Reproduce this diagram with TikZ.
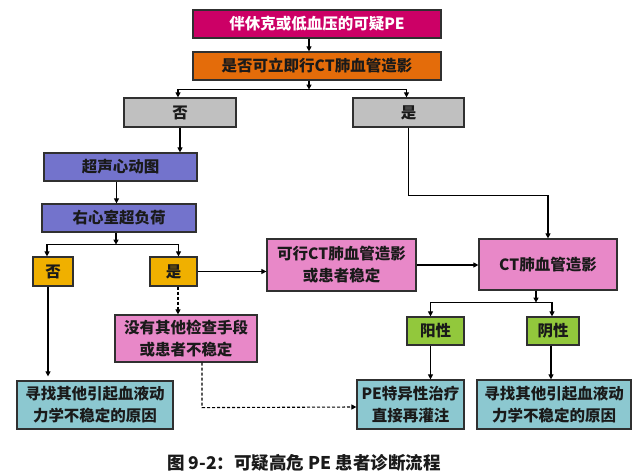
\documentclass[tikz,border=0pt]{standalone}
\usepackage{fontspec}
\newfontfamily\cjk{Noto Sans CJK SC}
\usetikzlibrary{arrows.meta,calc}
\definecolor{cmag}{HTML}{CC0066}
\definecolor{corg}{HTML}{E46C0A}
\definecolor{cgray}{HTML}{C0C0C0}
\definecolor{cpur}{HTML}{7373CC}
\definecolor{cyel}{HTML}{F0B000}
\definecolor{cpink}{HTML}{E888C8}
\definecolor{cgrn}{HTML}{92C83C}
\definecolor{cteal}{HTML}{8CC8D0}
\definecolor{ctext}{HTML}{1A1A1A}
\definecolor{cline}{HTML}{303030}
\tikzset{
  box/.style={draw=cline, line width=1.2pt, inner sep=0pt, align=center,
    text=ctext, font=\cjk\bfseries\fontsize{15.5}{22}\selectfont},
  arr/.style={draw=black, line width=1.1pt, -{Triangle[length=5pt,width=5pt]}},
  ln/.style={draw=black, line width=1.1pt},
  dsh/.style={draw=black, line width=1.1pt, dash pattern=on 3pt off 2pt}
}
\begin{document}
\begin{tikzpicture}[x=1pt,y=-1pt]
\useasboundingbox[fill=white] (0,0) rectangle (638,476);
\node[box, fill=cmag, text=white, minimum width=248, minimum height=28] (b1) at (317,24) {伴休克或低血压的可疑PE};
\node[box, fill=corg, minimum width=248, minimum height=28] (b2) at (317,66) {是否可立即行CT肺血管造影};
\node[box, fill=cgray, minimum width=112, minimum height=29] (no1) at (180,112.5) {否};
\node[box, fill=cgray, minimum width=111, minimum height=29] (yes1) at (408.5,112.5) {是};
\node[box, fill=cpur, minimum width=153, minimum height=28] (echo) at (120.5,167) {超声心动图};
\node[box, fill=cpur, minimum width=154, minimum height=28] (rv) at (119,218) {右心室超负荷};
\node[box, fill=cyel, minimum width=40, minimum height=29] (no2) at (53,271.5) {否};
\node[box, fill=cyel, minimum width=47, minimum height=29] (yes2) at (173.5,271.5) {是};
\node[box, fill=cpink, minimum width=149, minimum height=52] (ctok) at (341.5,265) {可行CT肺血管造影\\或患者稳定};
\node[box, fill=cpink, minimum width=138, minimum height=51] (ct) at (548,264.5) {CT肺血管造影};
\node[box, fill=cgrn, minimum width=57, minimum height=28] (pos) at (435.5,331) {阳性};
\node[box, fill=cgrn, minimum width=52, minimum height=28] (neg) at (553,331) {阴性};
\node[box, fill=cpink, minimum width=142, minimum height=47] (noother) at (186,338.5) {没有其他检查手段\\或患者不稳定};
\node[box, fill=cteal, minimum width=156, minimum height=48] (lb) at (95,405) {寻找其他引起血液动\\力学不稳定的原因};
\node[box, fill=cteal, minimum width=107, minimum height=49] (pe) at (410.5,404.5) {PE特异性治疗\\直接再灌注};
\node[box, fill=cteal, minimum width=154, minimum height=49] (rb) at (554,404.5) {寻找其他引起血液动\\力学不稳定的原因};
\node[font=\cjk\bfseries\fontsize{17.5}{20}\selectfont, text=ctext] (cap) at (304,463) {图 9-2：可疑高危 PE 患者诊断流程};
% connectors
\coordinate (s1) at ($(b1.south)+(-8,0)$);
\draw[arr] (s1) -- (s1 |- b2.north);
\coordinate (s2) at ($(b2.south)+(-8,0)$);
\coordinate (j1) at ($(s2)+(0,9)$);
\draw[arr] (s2) -- (j1);
\draw[arr] (j1) -| ($(no1.north)+(-2,0)$);
\draw[arr] (j1) -| ($(yes1.north)+(-2,0)$);
\draw[arr] (no1.south) -- (no1.south |- echo.north);
\coordinate (s3) at ($(echo.south)+(-4,0)$);
\draw[arr] (s3) -- (s3 |- rv.north);
\coordinate (s4) at ($(rv.south)+(-3,0)$);
\coordinate (j2) at ($(s4)+(0,12)$);
\draw[arr] (s4) -- (j2);
\draw[arr] (j2) -| ($(no2.north)+(-6,0)$);
\draw[arr] (j2) -| ($(yes2.north)+(5,0)$);
\draw[arr] (yes2.east) -- (yes2.east -| ctok.west);
\draw[arr] (ctok.east) -- (ctok.east -| ct.west);
\draw[arr] (yes1.south) -- ++(0,68) -| (ct.north);
\coordinate (s5) at ($(ct.south)+(-12,0)$);
\coordinate (j3) at ($(s5)+(0,12)$);
\draw[arr] (s5) -- (j3);
\draw[arr] (j3) -| ($(pos.north)+(-5,0)$);
\draw[arr] (j3) -| ($(neg.north)+(-1,0)$);
\coordinate (s6) at ($(pos.south)+(-5,0)$);
\draw[arr] (s6) -- (s6 |- pe.north);
\coordinate (s7) at ($(neg.south)+(-2,0)$);
\draw[arr] (s7) -- (s7 |- rb.north);
\coordinate (s8) at ($(no2.south)+(-5,0)$);
\draw[arr] (s8) -- ($(s8 |- lb.north)+(0,-4)$);
\coordinate (s9) at ($(yes2.south)+(4.5,0)$);
\draw[dsh, -{Triangle[length=5pt,width=5pt]}] (s9) -- (s9 |- noother.north);
\coordinate (s10) at ($(noother.south)+(16,0)$);
\draw[dsh, -{Triangle[length=5pt,width=5pt]}] (s10) -- ++(0,45) -- ($(pe.west)+(0,2.5)$);
\end{tikzpicture}
\end{document}
